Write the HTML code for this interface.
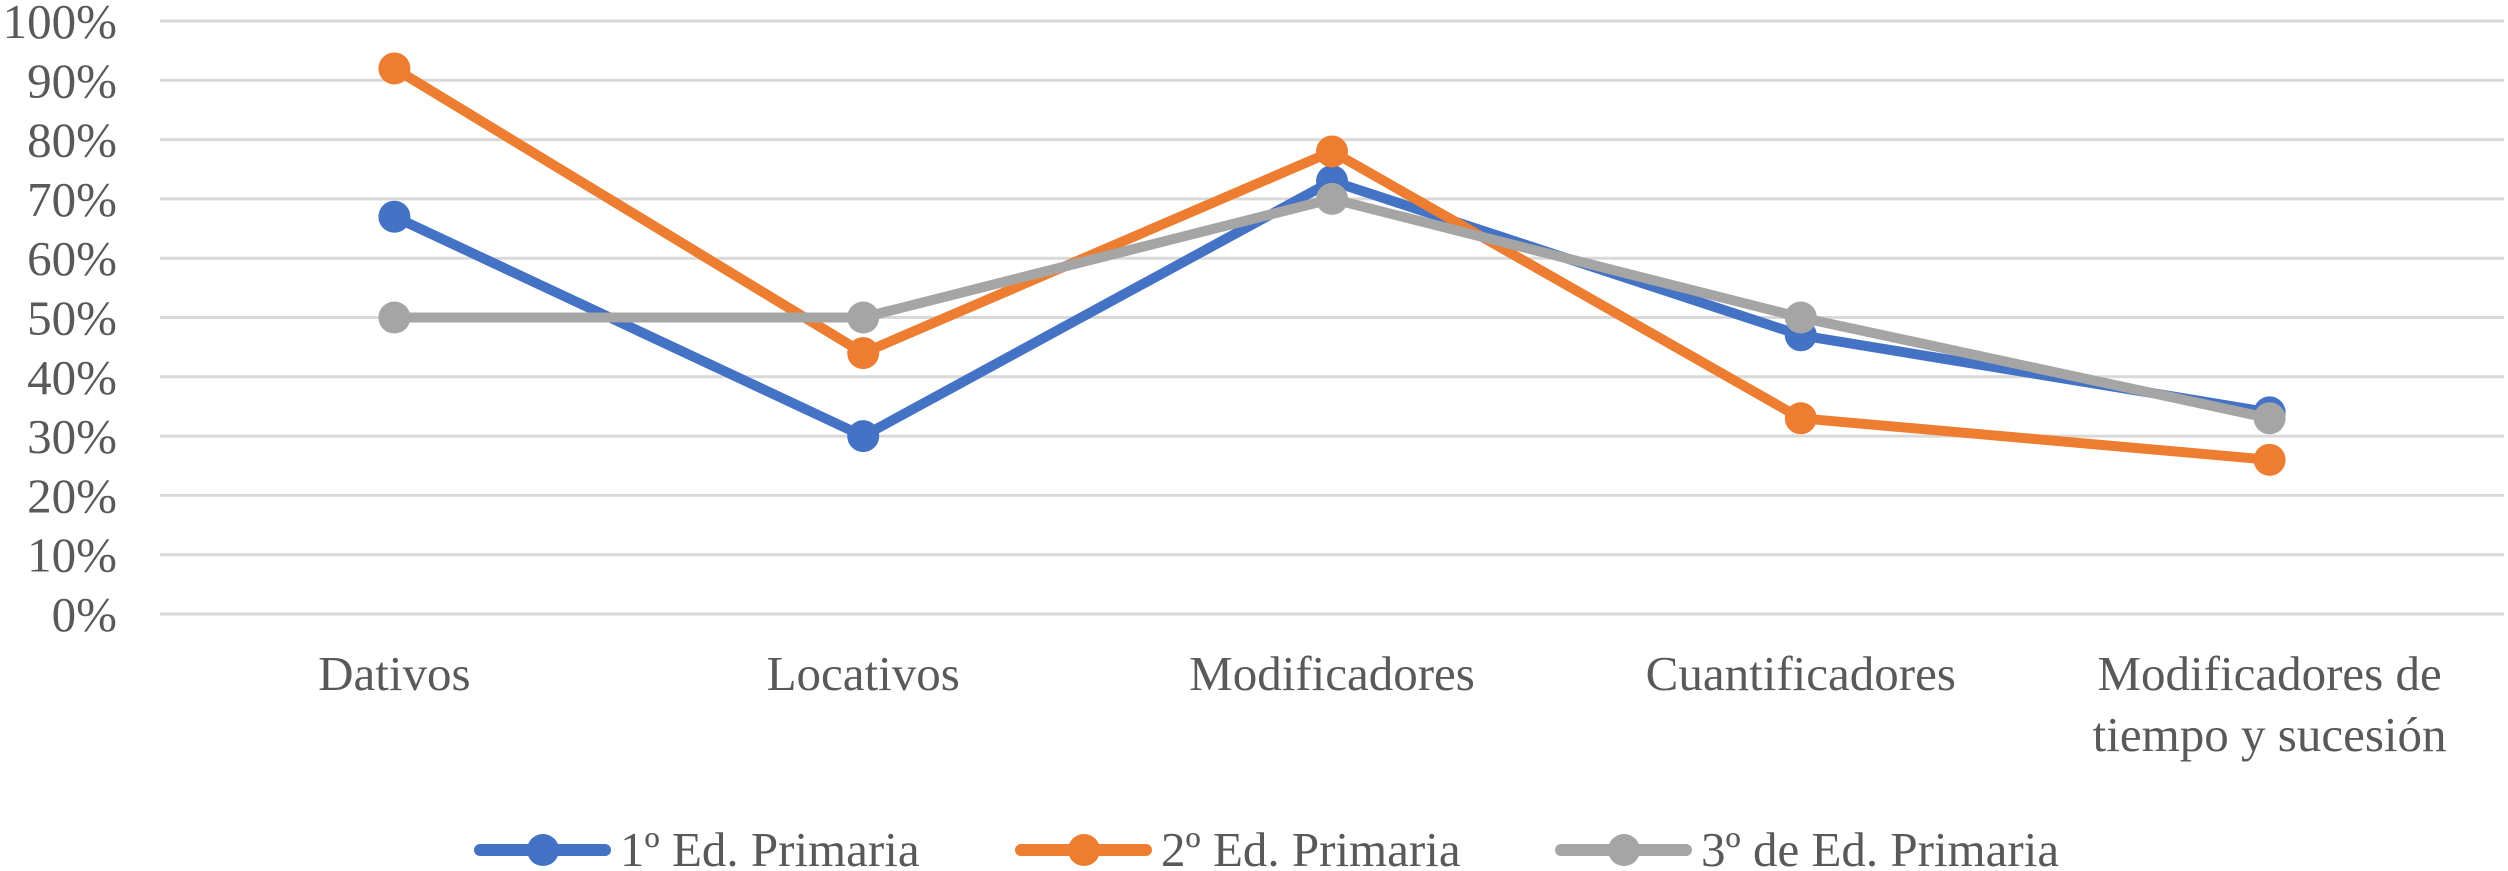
<!DOCTYPE html>
<html><head><meta charset="utf-8"><style>
html,body{margin:0;padding:0;background:#fff;overflow:hidden}
svg{display:block}
text{font-family:"Liberation Serif",serif;fill:#595959;font-size:49px}
</style></head><body>
<svg id="chart" width="2508" height="871" viewBox="0 0 2508 871" xmlns="http://www.w3.org/2000/svg">
<g id="grid"></g>
<g id="yaxis"></g>
<g id="xaxis"></g>
<g id="series"></g>
<g id="legend"></g>
</svg>
<script>
const categories = [["Dativos"],["Locativos"],["Modificadores"],["Cuantificadores"],["Modificadores de","tiempo y sucesión"]];
const yTicks = [0,10,20,30,40,50,60,70,80,90,100];
const seriesNames = ["1º Ed. Primaria","2º Ed. Primaria","3º de Ed. Primaria"];
const seriesColors = ["#4472c4","#ed7d31","#a5a5a5"];
const s1 = [67,30,73,47,34];
const s2 = [92,44,78,33,26];
const s3 = [50,50,70,50,33];
const seriesValues = [s1,s2,s3];

const NS="http://www.w3.org/2000/svg";
const L=160,R=2504,T=21,B=614;
const y=v=>B-(v/100)*(B-T);
const x=i=>L+(R-L)/categories.length*(i+0.5);
function mk(tag,attrs,parent){const e=document.createElementNS(NS,tag);for(const k in attrs)e.setAttribute(k,attrs[k]);parent.appendChild(e);return e;}
const grid=document.getElementById('grid'),ya=document.getElementById('yaxis'),xa=document.getElementById('xaxis'),se=document.getElementById('series'),lg=document.getElementById('legend');
yTicks.forEach(v=>{
  const l=mk('line',{x1:L,x2:R,y1:y(v),y2:y(v),stroke:'#d9d9d9','stroke-width':3},grid);
  
  
  const t=mk('text',{x:117,y:y(v)+17,'text-anchor':'end'},ya);
  t.textContent=v+'%';
  
  
});
categories.forEach((c,i)=>{
  c.forEach((line,j)=>{
    const t=mk('text',{x:x(i),y:690+j*61,'text-anchor':'middle'},xa);
    t.textContent=line;
    
    
  });
});
seriesValues.forEach((vals,si)=>{
  const g=mk('g',{},se);
  
  
  const p=mk('polyline',{points:vals.map((v,i)=>x(i)+','+y(v)).join(' '),fill:'none',stroke:seriesColors[si],'stroke-width':10,'stroke-linejoin':'round'},g);
  
  
  vals.forEach((v,i)=>{
    const c=mk('circle',{cx:x(i),cy:y(v),r:16,fill:seriesColors[si]},g);
    
    
  });
});
const legX=[475,1016,1556];
seriesNames.forEach((n,i)=>{
  const g=mk('g',{},lg);
  
  
  mk('line',{x1:legX[i]+5,x2:legX[i]+130,y1:850,y2:850,stroke:seriesColors[i],'stroke-width':12,'stroke-linecap':'round'},g);
  mk('circle',{cx:legX[i]+68,cy:850,r:16,fill:seriesColors[i]},g);
  const t=mk('text',{x:legX[i]+145,y:866},g);
  t.textContent=n;
  
  
});
</script>
</body></html>
